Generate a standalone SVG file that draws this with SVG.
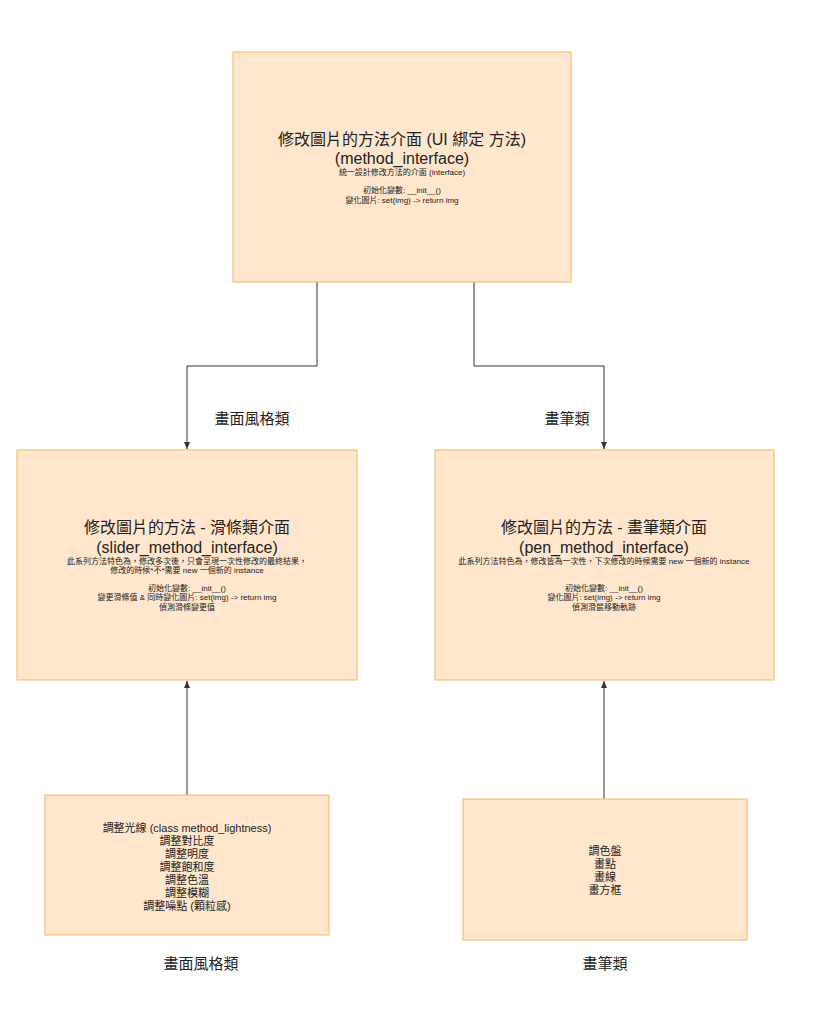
<svg xmlns="http://www.w3.org/2000/svg" width="836" height="1024" viewBox="0 0 836 1024">
<style>
.box{fill:#ffe6cc;stroke:#f5b75f;stroke-width:1}
text{font-family:"Liberation Sans","Noto Sans CJK TC",sans-serif;fill:#222;text-anchor:middle}
.t{font-size:16px}
.s{font-size:8px}
.m{font-size:11px}
.l{font-size:15px}
.c{fill:none;stroke:#333;stroke-width:1}
</style>
<defs><marker id="a" markerWidth="8" markerHeight="8" refX="7" refY="4" orient="auto" markerUnits="userSpaceOnUse"><path d="M0,1 L7,4 L0,7 Z" fill="#333"/></marker></defs>
<rect width="836" height="1024" fill="#fff"/>
<g id="connectors">
<path class="c" d="M317,282 V366 H187 V449" marker-end="url(#a)"/>
<path class="c" d="M474,282 V366 H604 V449" marker-end="url(#a)"/>
<path class="c" d="M187,795 V681" marker-end="url(#a)"/>
<path class="c" d="M604,799 V681" marker-end="url(#a)"/>
<text class="l" x="252" y="424">畫面風格類</text>
<text class="l" x="567" y="424">畫筆類</text>
</g>
<g id="top">
<rect class="box" x="233" y="52" width="338" height="230"/>
<text class="t" x="402" y="145">修改圖片的方法介面 (UI 綁定 方法)</text>
<text class="t" x="402" y="164">(method_interface)</text>
<text class="s" x="402" y="175">統一設計修改方法的介面 (interface)</text>
<text class="s" x="402" y="193">初始化變數: __init__()</text>
<text class="s" x="402" y="203">變化圖片: set(img) -&gt; return img</text>
</g>
<g id="slider">
<rect class="box" x="17" y="450" width="340" height="230"/>
<text class="t" x="187" y="533">修改圖片的方法 - 滑條類介面</text>
<text class="t" x="187" y="553">(slider_method_interface)</text>
<text class="s" x="187" y="564">此系列方法特色為，修改多次後，只會呈現一次性修改的最終結果，</text>
<text class="s" x="187" y="573">修改的時候*不*需要 new 一個新的 instance</text>
<text class="s" x="187" y="591">初始化變數: __init__()</text>
<text class="s" x="187" y="600">變更滑條值 &amp; 同時變化圖片: set(img) -&gt; return img</text>
<text class="s" x="187" y="610">偵測滑條變更值</text>
</g>
<g id="pen">
<rect class="box" x="435" y="450" width="339" height="230"/>
<text class="t" x="604" y="533">修改圖片的方法 - 畫筆類介面</text>
<text class="t" x="604" y="553">(pen_method_interface)</text>
<text class="s" x="604" y="564">此系列方法特色為，修改皆為一次性，下次修改的時候需要 new 一個新的 instance</text>
<text class="s" x="604" y="591">初始化變數: __init__()</text>
<text class="s" x="604" y="600">變化圖片: set(img) -&gt; return img</text>
<text class="s" x="604" y="610">偵測滑鼠移動軌跡</text>
</g>
<g id="styles">
<rect class="box" x="45" y="795" width="284" height="140"/>
<text class="m" x="187" y="832">調整光線 (class method_lightness)</text>
<text class="m" x="187" y="845">調整對比度</text>
<text class="m" x="187" y="858">調整明度</text>
<text class="m" x="187" y="871">調整飽和度</text>
<text class="m" x="187" y="884">調整色溫</text>
<text class="m" x="187" y="897">調整模糊</text>
<text class="m" x="187" y="910">調整噪點 (顆粒感)</text>
</g>
<g id="pens">
<rect class="box" x="463" y="799" width="284" height="141"/>
<text class="m" x="605" y="855">調色盤</text>
<text class="m" x="605" y="868">畫點</text>
<text class="m" x="605" y="881">畫線</text>
<text class="m" x="605" y="894">畫方框</text>
</g>
<text class="l" x="201" y="969">畫面風格類</text>
<text class="l" x="605" y="969">畫筆類</text>
</svg>
